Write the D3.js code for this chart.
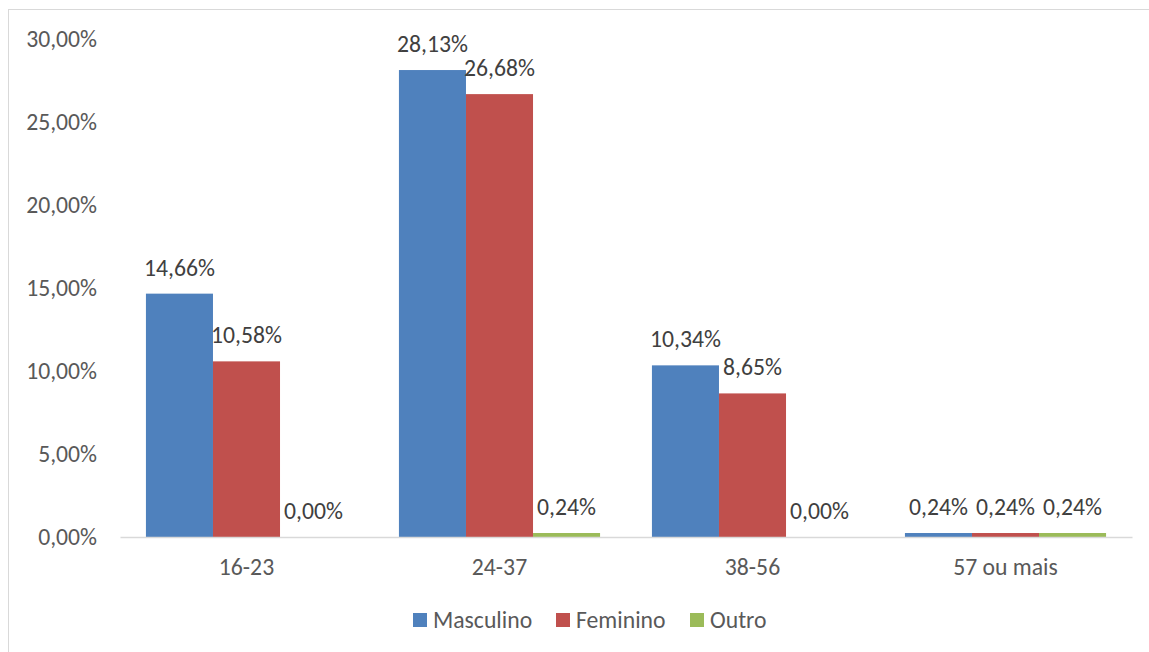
<!DOCTYPE html>
<meta charset="utf-8">
<style>
    body { margin: 0; background: #fff; }
    text { font-family: Carlito, "Open Sans", sans-serif; fill: #595959; }
</style>
<svg width="1149" height="652"></svg>
<script src="https://d3js.org/d3.v7.min.js"></script>
<script>

    var categories = ["16-23", "24-37", "38-56", "57 ou mais"];
    var series = ["Masculino", "Feminino", "Outro"];
    var masculino = [14.66, 28.13, 10.34, 0.24];
    var feminino = [10.58, 26.68, 8.65, 0.24];
    var outro = [0.00, 0.24, 0.00, 0.24];
    var yTicks = [0, 5, 10, 15, 20, 25, 30];
    var colors = ["#4F81BD", "#C0504D", "#9BBB59"];

    var values = [masculino, feminino, outro];
    var rows = [];
    categories.forEach(function (c, i) {
        series.forEach(function (s, j) {
            rows.push({cat: c, series: s, value: values[j][i]});
        });
    });

    var fontSize = "23.7px";
    var svg = d3.select("svg");

    // chart frame
    svg.append("rect")
        .attr("x", 8.5).attr("y", 9.5)
        .attr("width", 1200).attr("height", 700)
        .attr("fill", "none")
        .attr("stroke", "#D9D9D9");

    var x = d3.scaleBand()
        .domain(categories)
        .range([120, 1132])
        .paddingInner(0.205)
        .paddingOuter(0.1025);

    var xs = d3.scaleBand()
        .domain(series)
        .range([0, x.bandwidth()]);

    var y = d3.scaleLinear()
        .domain([0, 30])
        .range([537, 39]);

    var fmt = function (v) { return d3.format(".2f")(v).replace(".", ",") + "%"; };

    // y axis labels
    var yAxis = svg.append("g")
        .attr("transform", "translate(120,0)")
        .call(d3.axisLeft(y).tickValues(yTicks).tickSize(0).tickPadding(23).tickFormat(fmt));
    yAxis.select(".domain").remove();
    yAxis.selectAll("text")
        .attr("font-size", fontSize)
        .attr("font-family", null)
        .attr("fill", "#595959");

    // bars
    svg.append("g").selectAll("rect")
        .data(rows)
        .enter().append("rect")
        .attr("x", function (d) { return x(d.cat) + xs(d.series); })
        .attr("y", function (d) { return y(d.value); })
        .attr("width", xs.bandwidth())
        .attr("height", function (d) { return y(0) - y(d.value); })
        .attr("fill", function (d) { return colors[series.indexOf(d.series)]; });

    // x axis
    var xAxis = svg.append("g")
        .attr("transform", "translate(0,537)")
        .call(d3.axisBottom(x).tickSize(0).tickPadding(21));
    xAxis.select(".domain").attr("stroke", "#D9D9D9").attr("stroke-width", 1.3);
    xAxis.selectAll("text")
        .attr("font-size", fontSize)
        .attr("font-family", null)
        .attr("fill", "#595959");

    // data labels
    svg.append("g").selectAll("text")
        .data(rows)
        .enter().append("text")
        .attr("x", function (d) { return x(d.cat) + xs(d.series) + xs.bandwidth() / 2; })
        .attr("y", function (d) { return y(d.value) - 18; })
        .attr("text-anchor", "middle")
        .attr("font-size", fontSize)
        .style("fill", "#404040")
        .text(function (d) { return fmt(d.value); });

    // legend
    var legendX = [413, 556, 690];
    var legend = svg.append("g").selectAll("g")
        .data(series)
        .enter().append("g")
        .attr("transform", function (d, i) { return "translate(" + legendX[i] + ",613)"; });
    legend.append("rect")
        .attr("width", 14).attr("height", 14)
        .attr("fill", function (d, i) { return colors[i]; });
    legend.append("text")
        .attr("x", 20).attr("y", 7)
        .attr("dy", "0.35em")
        .attr("font-size", fontSize)
        .text(function (d) { return d; });

</script>
